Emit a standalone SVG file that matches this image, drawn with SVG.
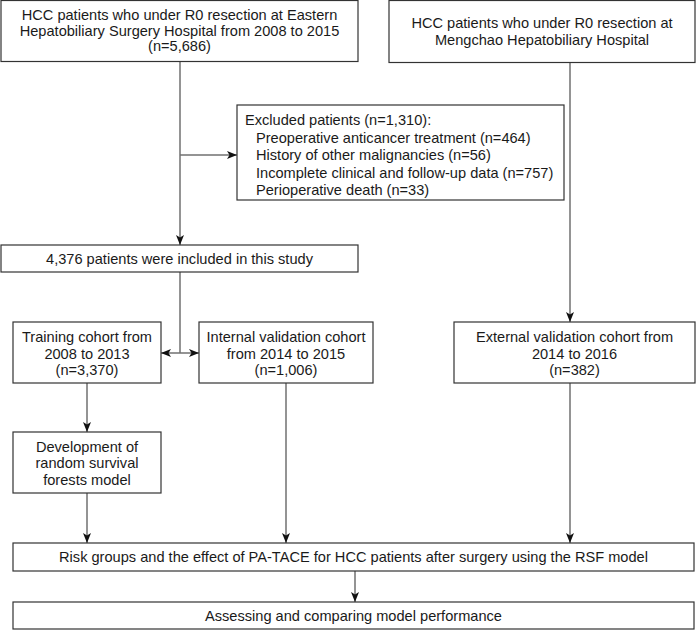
<svg xmlns="http://www.w3.org/2000/svg" width="696" height="630" viewBox="0 0 696 630">
<defs>
<marker id="ah" viewBox="0 0 10 8" refX="10" refY="4" markerWidth="10" markerHeight="8" markerUnits="userSpaceOnUse" orient="auto-start-reverse">
<path d="M0,0 L10,4 L0,8 L2.5,4 Z" fill="#111"/>
</marker>
</defs>
<style>
.box{fill:#fff;stroke:#333;stroke-width:1.2}
.t{font-family:"Liberation Sans",Arial,Helvetica,sans-serif;font-size:14.6px;fill:#1a1a1a}
.c{text-anchor:middle}
.ln{fill:none;stroke:#707070;stroke-width:1.5}
.ar{fill:none;stroke:#707070;stroke-width:1.5;marker-end:url(#ah)}
</style>
<rect width="696" height="630" fill="#fff"/>
<g id="connectors">
<line class="ar" x1="180" y1="61" x2="180" y2="245"/>
<line class="ar" x1="180" y1="155" x2="237" y2="155"/>
<line class="ar" x1="570" y1="62" x2="570" y2="322"/>
<line class="ln" x1="180" y1="272" x2="180" y2="353"/>
<line class="ln" x1="161" y1="353" x2="199" y2="353" marker-start="url(#ah)" marker-end="url(#ah)"/>
<line class="ar" x1="87" y1="383" x2="87" y2="432"/>
<line class="ar" x1="87" y1="493" x2="87" y2="543"/>
<line class="ar" x1="286" y1="383" x2="286" y2="543"/>
<line class="ar" x1="570" y1="383" x2="570" y2="543"/>
<line class="ar" x1="355" y1="571" x2="355" y2="602"/>
</g>
<g id="eastern">
<rect class="box" x="1" y="0.5" width="357" height="61"/>
<text class="t c" x="179.5" y="20">HCC patients who under R0 resection at Eastern</text>
<text class="t c" x="179.5" y="35.5">Hepatobiliary Surgery Hospital from 2008 to 2015</text>
<text class="t c" x="179.5" y="51">(n=5,686)</text>
</g>
<g id="mengchao">
<rect class="box" x="389" y="0.5" width="306" height="62"/>
<text class="t c" x="542" y="28">HCC patients who under R0 resection at</text>
<text class="t c" x="542" y="45">Mengchao Hepatobiliary Hospital</text>
</g>
<g id="excluded">
<rect class="box" x="237" y="105" width="327" height="95"/>
<text class="t" x="245" y="125">Excluded patients (n=1,310):</text>
<text class="t" x="256" y="142.5">Preoperative anticancer treatment (n=464)</text>
<text class="t" x="256" y="160">History of other malignancies (n=56)</text>
<text class="t" x="256" y="177.5">Incomplete clinical and follow-up data (n=757)</text>
<text class="t" x="256" y="195">Perioperative death (n=33)</text>
</g>
<g id="included">
<rect class="box" x="1" y="245" width="357" height="27"/>
<text class="t c" x="179.5" y="263.5">4,376 patients were included in this study</text>
</g>
<g id="training">
<rect class="box" x="13" y="322" width="148" height="61"/>
<text class="t c" x="87" y="342">Training cohort from</text>
<text class="t c" x="87" y="358.5">2008 to 2013</text>
<text class="t c" x="87" y="375">(n=3,370)</text>
</g>
<g id="internal">
<rect class="box" x="199" y="322" width="174" height="61"/>
<text class="t c" x="286" y="342">Internal validation cohort</text>
<text class="t c" x="286" y="358.5">from 2014 to 2015</text>
<text class="t c" x="286" y="375">(n=1,006)</text>
</g>
<g id="external">
<rect class="box" x="454" y="322" width="241" height="61"/>
<text class="t c" x="574.5" y="342">External validation cohort from</text>
<text class="t c" x="574.5" y="358.5">2014 to 2016</text>
<text class="t c" x="574.5" y="375">(n=382)</text>
</g>
<g id="development">
<rect class="box" x="13" y="432" width="148" height="61"/>
<text class="t c" x="87" y="452">Development of</text>
<text class="t c" x="87" y="468">random survival</text>
<text class="t c" x="87" y="484.5">forests model</text>
</g>
<g id="risk">
<rect class="box" x="13" y="543" width="681" height="28"/>
<text class="t c" x="353.5" y="562">Risk groups and the effect of PA-TACE for HCC patients after surgery using the RSF model</text>
</g>
<g id="assessing">
<rect class="box" x="13" y="602" width="681" height="27"/>
<text class="t c" x="353.5" y="620.5">Assessing and comparing model performance</text>
</g>
</svg>
